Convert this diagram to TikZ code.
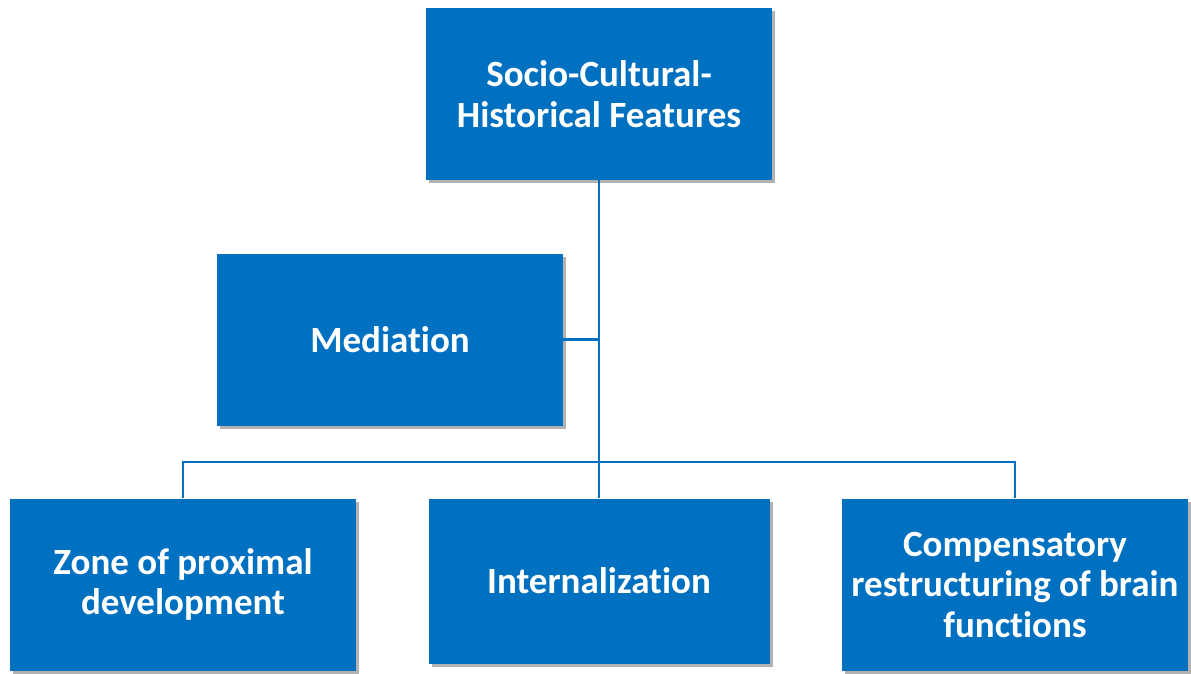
\documentclass[tikz,border=0pt]{standalone}
\usepackage{fontspec}
\setmainfont[Ligatures=NoCommon]{Carlito}
\usetikzlibrary{shadows}
\definecolor{xanh}{HTML}{0070C0}
\tikzset{
  khoi/.style={rectangle, fill=xanh, text=white, align=center, inner sep=0pt,
    minimum width=346pt, minimum height=172pt,
    font=\fontsize{37}{40.5}\selectfont\bfseries,
    drop shadow={shadow xshift=3pt, shadow yshift=-3pt, fill=black, opacity=0.3}},
  noi/.style={draw=xanh, line width=2.2pt}
}
\begin{document}
\begin{tikzpicture}[x=1pt,y=-1pt]
  \useasboundingbox (0,0) rectangle (1191,673);
  % cac khoi
  \node[khoi] (goc) at (599,94) {Socio-Cultural-\\Historical Features};
  \node[khoi] (trunggian) at (390,339.5) {Mediation};
  \node[khoi] (vung) at (183,584.5) {Zone of proximal\\development};
  \node[khoi, minimum width=341pt, minimum height=165pt] (noihoa) at (599,581) {Internalization};
  \node[khoi] (bu) at (1015,584.5) {Compensatory\\restructuring of brain\\functions};
  \coordinate (truc) at (599,462);
  % duong noi
  \draw[noi] (goc.south) -- (noihoa.north);
  \draw[noi] (trunggian.east) -- (trunggian.east -| goc.south);
  \draw[noi] (vung.north) |- (truc) -| (bu.north);
\end{tikzpicture}
\end{document}
